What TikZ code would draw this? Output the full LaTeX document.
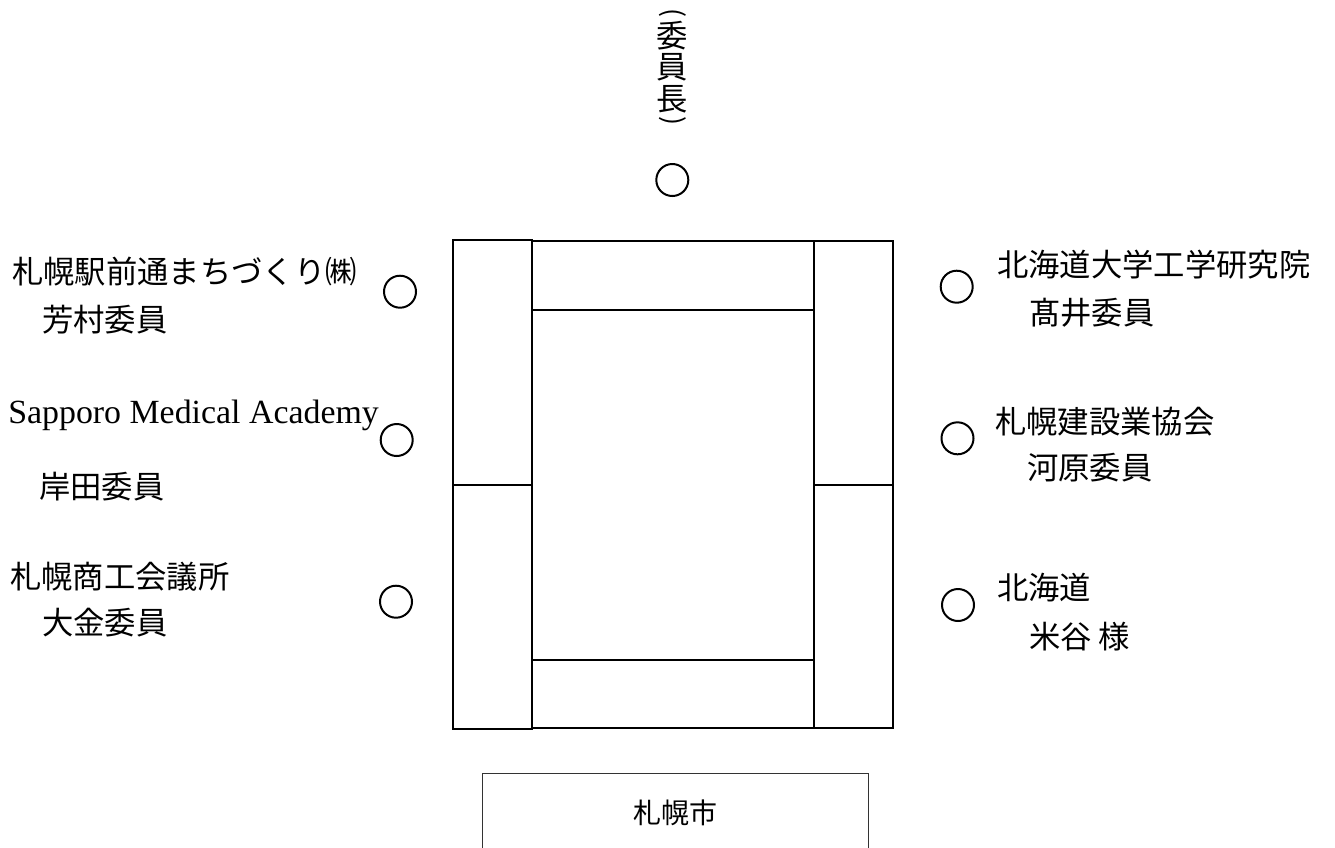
\documentclass[tikz,border=0pt]{standalone}
\usepackage{fontspec}
\setmainfont{Liberation Serif}
\newfontfamily\jp{Noto Sans CJK JP}
\begin{document}
\begin{tikzpicture}[x=0.75pt,y=-0.75pt,
  tbl/.style={line width=1.5pt},
  seat/.style={circle,draw,line width=1.5pt,minimum size=24pt,inner sep=0pt},
  lbl/.style={anchor=west,inner sep=0pt,font=\jp\fontsize{23.5}{28}\selectfont},
  vch/.style={anchor=center,inner sep=0pt,font=\jp\fontsize{23.5}{28}\selectfont},
  city/.style={line width=0.8pt,draw=black!80}]
\useasboundingbox (0,0) rectangle (1335,847);
% tables
\draw[tbl] (453,240) rectangle (532,484.5);
\draw[tbl] (453,484.5) rectangle (532,728.5);
\draw[tbl] (814,241) rectangle (893,484.5);
\draw[tbl] (814,484.5) rectangle (893,728);
\draw[tbl] (532,241) rectangle (814,309.5);
\draw[tbl] (532,659.5) rectangle (814,728);
% city box
\draw[city] (482.7,873) -- (482.7,773.3) -- (868.3,773.3) -- (868.3,873);
\node[anchor=center,inner sep=0pt,font=\jp\fontsize{21}{25}\selectfont] (cityl) at (675.5,813) {札幌市};
% seats
\node[seat] (c0) at (672.3,180) {};
\node[seat] (l1) at (400,291.7) {};
\node[seat] (l2) at (396.7,440) {};
\node[seat] (l3) at (396,601.7) {};
\node[seat] (r1) at (956.7,286.7) {};
\node[seat] (r2) at (957.5,438.3) {};
\node[seat] (r3) at (958,605) {};
% chair (vertical)
\node[vch,rotate=-90,font=\jp\fontsize{20}{24}\selectfont] (v1) at (672.3,13) {(};
\node[vch] (v2) at (672.3,36) {委};
\node[vch] (v3) at (672.3,67.5) {員};
\node[vch] (v4) at (672.3,99) {長};
\node[vch,rotate=-90,font=\jp\fontsize{20}{24}\selectfont] (v5) at (672.3,121) {)};
% left labels
\node[lbl] (t1) at (12,272) {札幌駅前通まちづくり㈱};
\node[lbl] (t2) at (42,320) {芳村委員};
\node[anchor=base west,inner sep=0pt,font=\fontsize{25.4}{30}\selectfont] (t3) at (8,423) {Sapporo Medical Academy};
\node[lbl] (t4) at (39,487) {岸田委員};
\node[lbl] (t5) at (10,577) {札幌商工会議所};
\node[lbl] (t6) at (42,623) {大金委員};
% right labels
\node[lbl] (s1) at (997,265) {北海道大学工学研究院};
\node[lbl] (s2) at (1029,313) {髙井委員};
\node[lbl] (s3) at (995,422) {札幌建設業協会};
\node[lbl] (s4) at (1027,468) {河原委員};
\node[lbl] (s5) at (997,588) {北海道};
\node[lbl] (s6) at (1029,637) {米谷 様};
\end{tikzpicture}
\end{document}
